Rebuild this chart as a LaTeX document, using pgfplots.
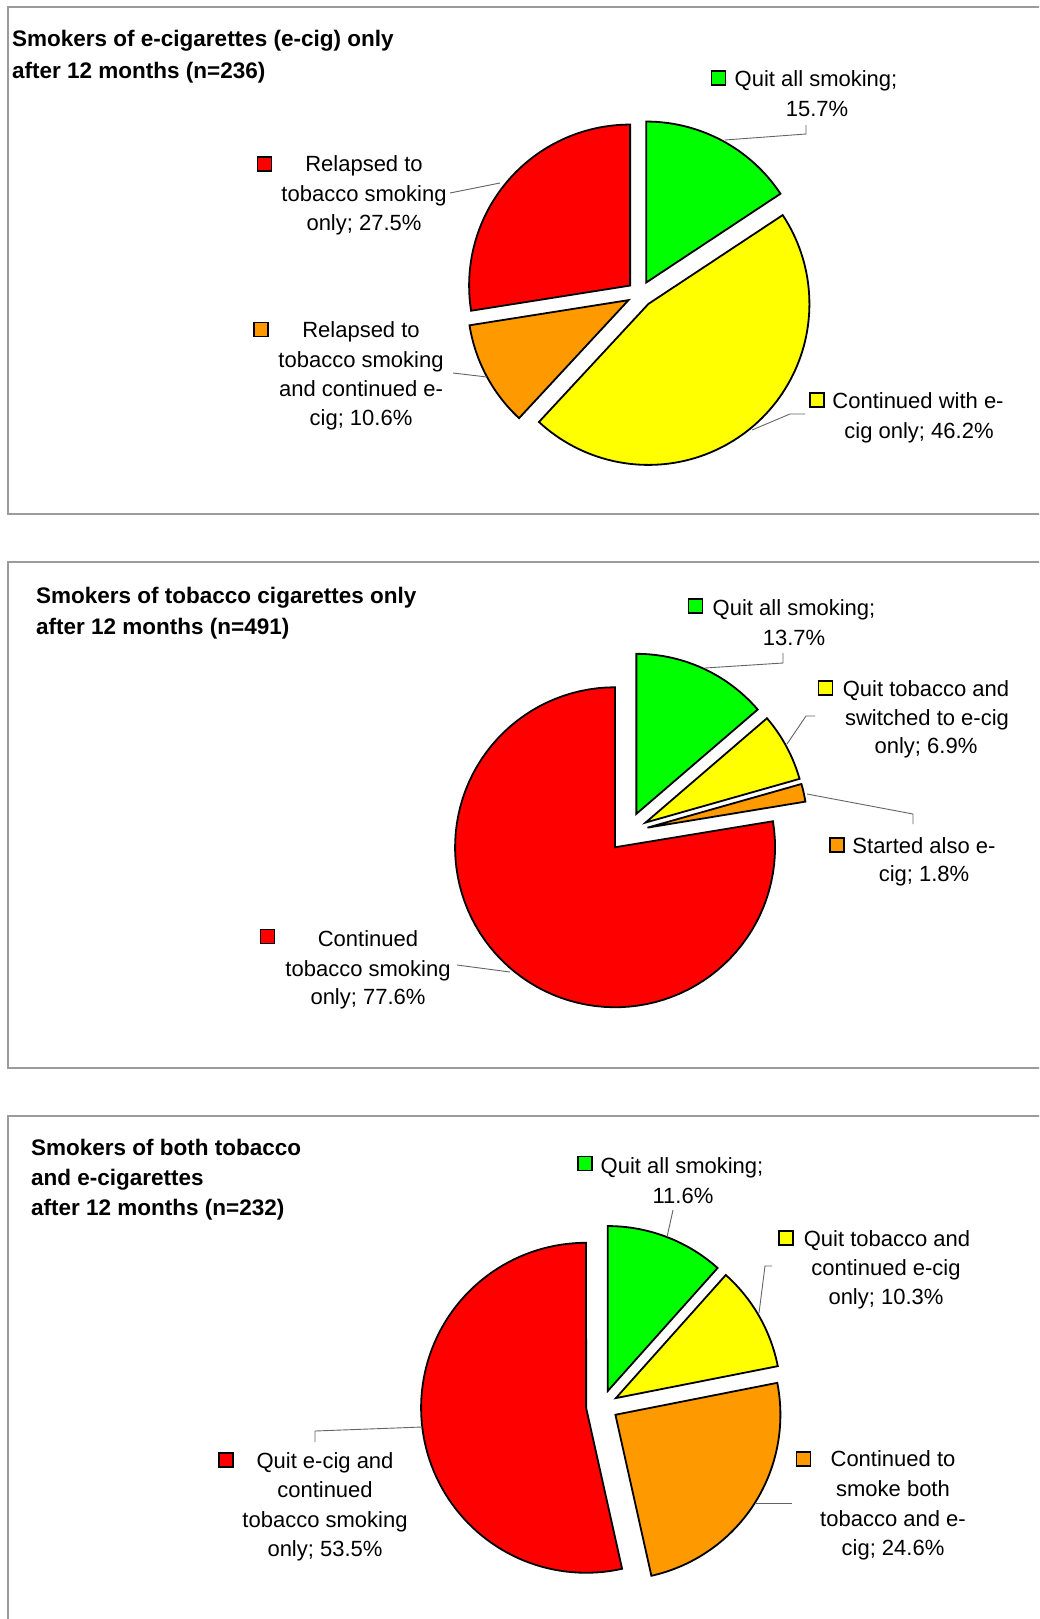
\documentclass[border=0pt]{standalone}
\usepackage{pgfplots}
\pgfplotsset{compat=1.18}
\usepackage{fontspec}
\setmainfont{Liberation Sans}
\definecolor{cred}{RGB}{255,0,0}
\definecolor{cgreen}{RGB}{0,255,0}
\definecolor{cyellow}{RGB}{255,255,0}
\definecolor{corange}{RGB}{255,153,0}
\definecolor{cframe}{RGB}{155,155,155}
\definecolor{clead}{RGB}{100,100,100}
\newcommand\labfont{\fontsize{22}{29.5}\selectfont}
\newcommand\titfont{\fontsize{22.5}{30}\selectfont\bfseries}
% slice: cx, cy, r, explode, start%, end%, colour
\newcommand\pieslice[7]{%
  \pgfmathsetmacro\mA{#5*3.6}%
  \pgfmathsetmacro\mB{#6*3.6}%
  \pgfmathsetmacro\mM{(\mA+\mB)/2}%
  \pgfmathsetmacro\ox{#1+#4*sin(\mM)}%
  \pgfmathsetmacro\oy{#2-#4*cos(\mM)}%
  \edef\temp{\noexpand\addplot[draw=black,line width=1.8pt,line join=miter,fill=#7,mark=none,domain=\mA:\mB,samples=90] ({\ox+#3*sin(x)},{\oy-#3*cos(x)}) -- (axis cs:\ox,\oy) -- cycle;}%
  \temp}
\newcommand\lab[3]{\node[anchor=base,font=\labfont,inner sep=0pt] at (axis cs:#1,#2) {#3};}
\newcommand\tit[3]{\node[anchor=base west,font=\titfont,inner sep=0pt] at (axis cs:#1,#2) {#3};}
\newcommand\key[3]{\addplot[only marks,mark=square*,mark size=6.8pt,mark options={fill=#3,draw=black,line width=1.5pt}] coordinates {(#1,#2)};}
\begin{document}
\begin{tikzpicture}
\begin{axis}[width=1039pt,height=1619pt,scale only axis,
  xmin=0,xmax=1039,ymin=0,ymax=1619,y dir=reverse,hide axis,clip=true,
  at={(0,0)},anchor=south west]
\coordinate (BL) at (axis cs:0,1619);
\coordinate (TR) at (axis cs:1039,0);
% panel frames
\addplot[cframe,line width=1.6pt,mark=none] coordinates {(1080,514) (8,514) (8,7) (1080,7)};
\addplot[cframe,line width=1.6pt,mark=none] coordinates {(1080,1068) (8,1068) (8,562) (1080,562)};
\addplot[cframe,line width=1.6pt,mark=none] coordinates {(8,1660) (8,1116) (1080,1116)};
% ---------- panel 1: e-cig only (n=236)
\pieslice{640}{294}{161}{13}{0}{15.7}{cgreen}
\pieslice{640}{294}{161}{13}{15.7}{61.9}{cyellow}
\pieslice{640}{294}{161}{13}{61.9}{72.5}{corange}
\pieslice{640}{294}{161}{13}{72.5}{100}{cred}
\addplot[clead,line width=0.9pt,mark=none] coordinates {(806,125) (806,134) (725,140)};
\addplot[clead,line width=0.9pt,mark=none] coordinates {(450,193) (500,183)};
\addplot[clead,line width=0.9pt,mark=none] coordinates {(453,373) (487,377)};
\addplot[clead,line width=0.9pt,mark=none] coordinates {(805,414) (790,414) (752,430)};
\key{718.5}{78}{cgreen}
\key{264.5}{164}{cred}
\key{261}{329.5}{corange}
\key{817}{400}{cyellow}
\tit{12}{47}{Smokers of e-cigarettes (e-cig) only}
\tit{12}{78}{after 12 months (n=236)}
\lab{816}{86}{Quit all smoking;}
\lab{817}{116}{15.7\%}
\lab{364}{171}{Relapsed to}
\lab{364}{201}{tobacco smoking}
\lab{364}{230}{only; 27.5\%}
\lab{361}{337}{Relapsed to}
\lab{361}{367}{tobacco smoking}
\lab{361}{396}{and continued e-}
\lab{361}{425}{cig; 10.6\%}
\lab{918}{408}{Continued with e-}
\lab{919}{438}{cig only; 46.2\%}
% ---------- panel 2: tobacco only (n=491)
\pieslice{628}{832}{160}{20}{0}{13.7}{cgreen}
\pieslice{628}{832}{160}{20}{13.7}{20.6}{cyellow}
\pieslice{628}{832}{160}{20}{20.6}{22.4}{corange}
\pieslice{628}{832}{160}{20}{22.4}{100}{cred}
\addplot[clead,line width=0.9pt,mark=none] coordinates {(783,653) (783,663) (705,668)};
\addplot[clead,line width=0.9pt,mark=none] coordinates {(815,716) (806,716) (787,744)};
\addplot[clead,line width=0.9pt,mark=none] coordinates {(807,794) (913,814) (913,824)};
\addplot[clead,line width=0.9pt,mark=none] coordinates {(457,965) (510,972)};
\key{695.5}{606}{cgreen}
\key{825.5}{688}{cyellow}
\key{837}{845}{corange}
\key{267.5}{936.5}{cred}
\tit{36}{603}{Smokers of tobacco cigarettes only}
\tit{36}{634}{after 12 months (n=491)}
\lab{794}{615}{Quit all smoking;}
\lab{794}{645}{13.7\%}
\lab{926}{696}{Quit tobacco and}
\lab{927}{725}{switched to e-cig}
\lab{926}{753}{only; 6.9\%}
\lab{924}{853}{Started also e-}
\lab{924}{881}{cig; 1.8\%}
\lab{368}{946}{Continued}
\lab{368}{976}{tobacco smoking}
\lab{368}{1004}{only; 77.6\%}
% ---------- panel 3: both (n=232)
\pieslice{602}{1406}{165}{16}{0}{11.6}{cgreen}
\pieslice{602}{1406}{165}{16}{11.6}{21.9}{cyellow}
\pieslice{602}{1406}{165}{16}{21.9}{46.5}{corange}
\pieslice{602}{1406}{165}{16}{46.5}{100}{cred}
\addplot[clead,line width=0.9pt,mark=none] coordinates {(673,1210) (667,1237)};
\addplot[clead,line width=0.9pt,mark=none] coordinates {(772,1266) (765,1266) (759,1313)};
\addplot[clead,line width=0.9pt,mark=none] coordinates {(792,1503) (755,1503)};
\addplot[clead,line width=0.9pt,mark=none] coordinates {(315,1442) (315,1431) (422,1427)};
\key{585}{1163.5}{cgreen}
\key{786}{1238}{cyellow}
\key{803.5}{1459}{corange}
\key{226}{1460}{cred}
\tit{31}{1155}{Smokers of both tobacco}
\tit{31}{1185}{and e-cigarettes}
\tit{31}{1215}{after 12 months (n=232)}
\lab{682}{1173}{Quit all smoking;}
\lab{683}{1203}{11.6\%}
\lab{887}{1246}{Quit tobacco and}
\lab{886}{1275}{continued e-cig}
\lab{886}{1304}{only; 10.3\%}
\lab{893}{1466}{Continued to}
\lab{893}{1496}{smoke both}
\lab{893}{1526}{tobacco and e-}
\lab{893}{1555}{cig; 24.6\%}
\lab{325}{1468}{Quit e-cig and}
\lab{325}{1497}{continued}
\lab{325}{1527}{tobacco smoking}
\lab{325}{1556}{only; 53.5\%}
\end{axis}
\pgfresetboundingbox
\path[use as bounding box] (BL) rectangle (TR);
\end{tikzpicture}
\end{document}
